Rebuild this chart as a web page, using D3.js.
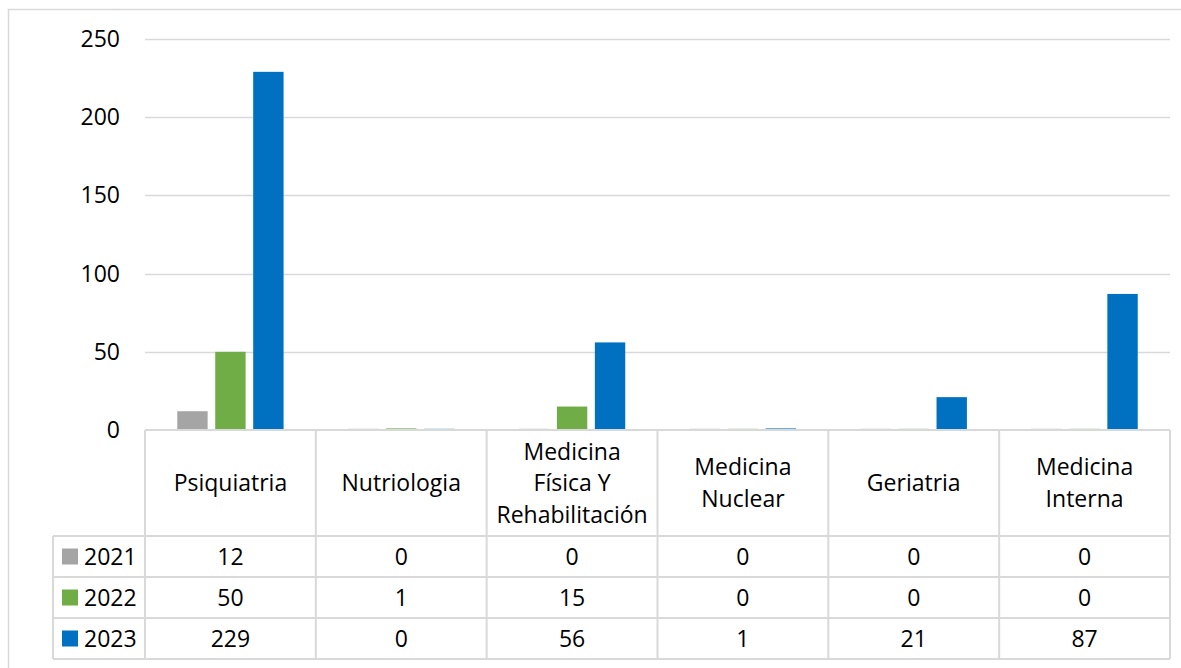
<!DOCTYPE html>
<html>
<head>
<meta charset="utf-8">
<script src="https://cdnjs.cloudflare.com/ajax/libs/d3/7.8.5/d3.min.js"></script>
<style>
  body { margin: 0; background: #fff; }
  svg text { font-family: "Open Sans", "Noto Sans", sans-serif; fill: #000; }
</style>
</head>
<body>
<div class="chart"></div>
<script>
var categories = ["Psiquiatria", "Nutriologia", "Medicina\nFísica Y\nRehabilitación", "Medicina\nNuclear", "Geriatria", "Medicina\nInterna"];
var years = ["2021", "2022", "2023"];
var v2021 = [12, 0, 0, 0, 0, 0];
var v2022 = [50, 1, 15, 0, 0, 0];
var v2023 = [229, 0, 56, 1, 21, 87];
var yTicks = [0, 50, 100, 150, 200, 250];
var colors = ["#A5A5A5", "#70AD47", "#0070C0"];

var series = [v2021, v2022, v2023];
var W = 1181, H = 668;
var plotL = 145, plotR = 1170, plotT = 39, base = 430;
var rowH = [106, 41, 41, 41];
var fs = "23px";

var svg = d3.select(".chart").append("svg")
  .attr("width", W).attr("height", H);

// outer frame
svg.append("rect")
  .attr("x", 8.5).attr("y", 9.5).attr("width", 1180).attr("height", 670)
  .attr("fill", "none").attr("stroke", "#d9d9d9").attr("stroke-width", 1.5);

var x = d3.scaleBand().domain(d3.range(categories.length)).range([plotL, plotR]);
var xs = d3.scaleBand().domain(d3.range(years.length)).range([0, x.bandwidth()]).paddingInner(0.2).paddingOuter(0.85);
var y = d3.scaleLinear().domain([0, 250]).range([base, plotT]);

// gridlines
svg.append("g").selectAll("line").data(yTicks.slice(1)).join("line")
  .attr("x1", plotL).attr("x2", plotR)
  .attr("y1", function(d){ return Math.round(y(d)) + 0.5; })
  .attr("y2", function(d){ return Math.round(y(d)) + 0.5; })
  .attr("stroke", "#d9d9d9").attr("stroke-width", 1.5);

// y axis labels
svg.append("g").selectAll("text").data(yTicks).join("text")
  .attr("x", 120).attr("y", function(d){ return y(d); })
  .attr("dy", "0.35em").attr("text-anchor", "end")
  .style("font-size", fs)
  .text(function(d){ return d; });

// bars
var groups = svg.append("g").selectAll("g").data(categories).join("g")
  .attr("transform", function(d, i){ return "translate(" + x(i) + ",0)"; });

groups.selectAll("rect").data(function(d, i){
    return series.map(function(s, k){ return {k: k, v: s[i]}; });
  }).join("rect")
  .attr("x", function(d){ return xs(d.k); })
  .attr("width", xs.bandwidth())
  .attr("y", function(d){ return d.v > 0 ? y(d.v) : base - 1.5; })
  .attr("height", function(d){ return d.v > 0 ? base - y(d.v) : 1.5; })
  .attr("fill", function(d){ return colors[d.k]; })
  .attr("opacity", function(d){ return d.v > 0 ? 1 : 0.35; });

// data table
var tbl = svg.append("g").attr("stroke", "#d9d9d9").attr("stroke-width", 2).attr("fill", "none");
var rowY = [base];
rowH.forEach(function(h){ rowY.push(rowY[rowY.length - 1] + h); });

rowY.forEach(function(yy, i){
  tbl.append("line")
    .attr("x1", i === 0 ? plotL : 53).attr("x2", plotR)
    .attr("y1", yy).attr("y2", yy);
});
d3.range(categories.length + 1).forEach(function(i){
  var xx = i < categories.length ? x(i) : plotR;
  tbl.append("line").attr("x1", xx).attr("x2", xx).attr("y1", base).attr("y2", rowY[4]);
});
tbl.append("line").attr("x1", 53).attr("x2", 53).attr("y1", rowY[1]).attr("y2", rowY[4]);

// header labels
svg.append("g").selectAll("text").data(categories).join("text")
  .attr("text-anchor", "middle")
  .style("font-size", fs)
  .each(function(d, i){
    var lines = d.split("\n");
    var cx = x(i) + x.bandwidth() / 2;
    var cy = base + rowH[0] / 2;
    var lh = 31.5;
    d3.select(this).selectAll("tspan").data(lines).join("tspan")
      .attr("x", cx)
      .attr("y", function(l, j){ return cy + (j - (lines.length - 1) / 2) * lh; })
      .attr("dy", "0.35em")
      .text(function(l){ return l; });
  });

// legend + value rows
years.forEach(function(yr, k){
  var cy = (rowY[k + 1] + rowY[k + 2]) / 2;
  svg.append("rect").attr("x", 62).attr("y", cy - 8).attr("width", 16).attr("height", 16)
    .attr("fill", colors[k]);
  svg.append("text").attr("x", 84).attr("y", cy).attr("dy", "0.35em")
    .style("font-size", fs).text(yr);
  svg.append("g").selectAll("text").data(series[k]).join("text")
    .attr("x", function(d, i){ return x(i) + x.bandwidth() / 2; })
    .attr("y", cy).attr("dy", "0.35em").attr("text-anchor", "middle")
    .style("font-size", fs)
    .text(function(d){ return d; });
});
</script>
</body>
</html>
